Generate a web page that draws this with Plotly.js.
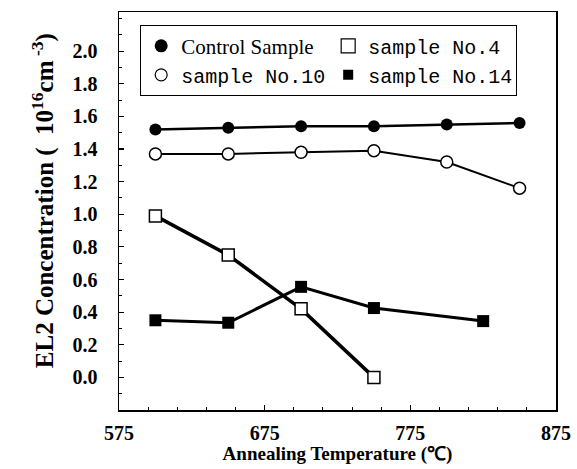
<!DOCTYPE html>
<html>
<head>
<meta charset="utf-8">
<script src="https://cdn.plot.ly/plotly-3.0.1.min.js"></script>
<style>html,body{margin:0;padding:0;background:#fff;}</style>
</head>
<body>
<div id="chart" style="width:577px;height:469px;"></div>
<script>
// Annealing temperatures (°C)
const tempsAll = [600, 650, 700, 750, 800, 850];
const temps4 = [600, 650, 700, 750];
const temps14 = [600, 650, 700, 750, 825];

// EL2 concentration (10^16 cm^-3)
const controlVals = [1.52, 1.53, 1.54, 1.54, 1.55, 1.56];
const no10Vals = [1.37, 1.37, 1.38, 1.39, 1.32, 1.16];
const no4Vals = [0.99, 0.75, 0.42, 0.00];
const no14Vals = [0.35, 0.335, 0.555, 0.425, 0.345];

const seriesNames = ['Control Sample', 'sample No.4', 'sample No.10', 'sample No.14'];
const xTicks = [575, 675, 775, 875];
const yTicks = [0, 0.2, 0.4, 0.6, 0.8, 1.0, 1.2, 1.4, 1.6, 1.8, 2.0];
const xTitle = 'Annealing Temperature (℃)';
const yTitle = 'EL2 Concentration (  10<sup>16</sup>cm<sup> -3</sup>)';

const serifName = '<span style="font-family:\'Liberation Serif\',\'Times New Roman\',serif;font-size:21px">' + seriesNames[0] + '</span>';

const traces = [
  // data traces
  {x: tempsAll, y: controlVals, mode: 'lines+markers', showlegend: false, cliponaxis: false,
   line: {color: '#000', width: 2.5},
   marker: {symbol: 'circle', size: 12, color: '#000'}},
  {x: tempsAll, y: no10Vals, mode: 'lines+markers', showlegend: false, cliponaxis: false,
   line: {color: '#000', width: 2},
   marker: {symbol: 'circle', size: 12, color: '#fff', line: {color: '#000', width: 1.5}}},
  {x: temps4, y: no4Vals, mode: 'lines+markers', showlegend: false, cliponaxis: false,
   line: {color: '#000', width: 3.5},
   marker: {symbol: 'square', size: 12, color: '#fff', line: {color: '#000', width: 1.5}}},
  {x: temps14, y: no14Vals, mode: 'lines+markers', showlegend: false, cliponaxis: false,
   line: {color: '#000', width: 3},
   marker: {symbol: 'square', size: 12, color: '#000'}},
  // legend-only entries (markers without line)
  {x: [null], y: [null], mode: 'markers', name: serifName,
   marker: {symbol: 'circle', size: 13, color: '#000'}},
  {x: [null], y: [null], mode: 'markers', name: seriesNames[1],
   marker: {symbol: 'square-open', size: 14, color: '#000', line: {width: 1.2}}},
  {x: [null], y: [null], mode: 'markers', name: seriesNames[2],
   marker: {symbol: 'circle-open', size: 12, color: '#000', line: {width: 1.2}}},
  {x: [null], y: [null], mode: 'markers', name: seriesNames[3],
   marker: {symbol: 'square', size: 10, color: '#000'}}
];

const tickFont = {family: 'Liberation Serif, Times New Roman, serif', size: 20, color: '#000', weight: 'bold'};

const layout = {
  width: 577, height: 469,
  margin: {l: 119, r: 21, t: 12, b: 59},
  paper_bgcolor: '#fff', plot_bgcolor: '#fff',
  showlegend: true,
  legend: {
    orientation: 'h', x: 0.048, y: 0.967, xanchor: 'left', yanchor: 'top',
    bgcolor: '#fff', bordercolor: '#000', borderwidth: 1.2,
    font: {family: 'Liberation Mono, Courier New, monospace', size: 20, color: '#000'},
    entrywidth: 142, itemwidth: 30, traceorder: 'normal'
  },
  xaxis: {
    range: [575, 875], tickvals: xTicks, ticktext: xTicks.map(String),
    ticks: 'inside', ticklen: 5, tickwidth: 1.2, tickcolor: '#000',
    minor: {dtick: 20, tick0: 575, ticks: 'inside', ticklen: 3, tickwidth: 1, tickcolor: '#000', showgrid: false},
    showline: true, linecolor: '#000', linewidth: 1.5, mirror: true,
    showgrid: false, zeroline: false,
    tickfont: tickFont, ticklabelstandoff: 4,
    title: {text: xTitle, standoff: 4,
            font: {family: 'Liberation Serif, Times New Roman, serif', size: 19, color: '#000', weight: 'bold'}}
  },
  yaxis: {
    range: [-0.2, 2.24], tickvals: yTicks, ticktext: yTicks.map(v => v.toFixed(1)),
    ticks: 'inside', ticklen: 5, tickwidth: 1.2, tickcolor: '#000',
    minor: {dtick: 0.1, tick0: 0, ticks: 'inside', ticklen: 3, tickwidth: 1, tickcolor: '#000', showgrid: false},
    showline: true, linecolor: '#000', linewidth: 1.5, mirror: true,
    showgrid: false, zeroline: false,
    tickfont: tickFont, ticklabelstandoff: 16
  },
  annotations: [{
    text: yTitle, textangle: -90, showarrow: false,
    xref: 'paper', yref: 'paper', x: -0.174, y: 0.527, xanchor: 'center', yanchor: 'middle',
    font: {family: 'Liberation Serif, Times New Roman, serif', size: 25, color: '#000', weight: 'bold'}
  }]
};

Plotly.newPlot('chart', traces, layout, {displayModeBar: false, staticPlot: true});
</script>
</body>
</html>
